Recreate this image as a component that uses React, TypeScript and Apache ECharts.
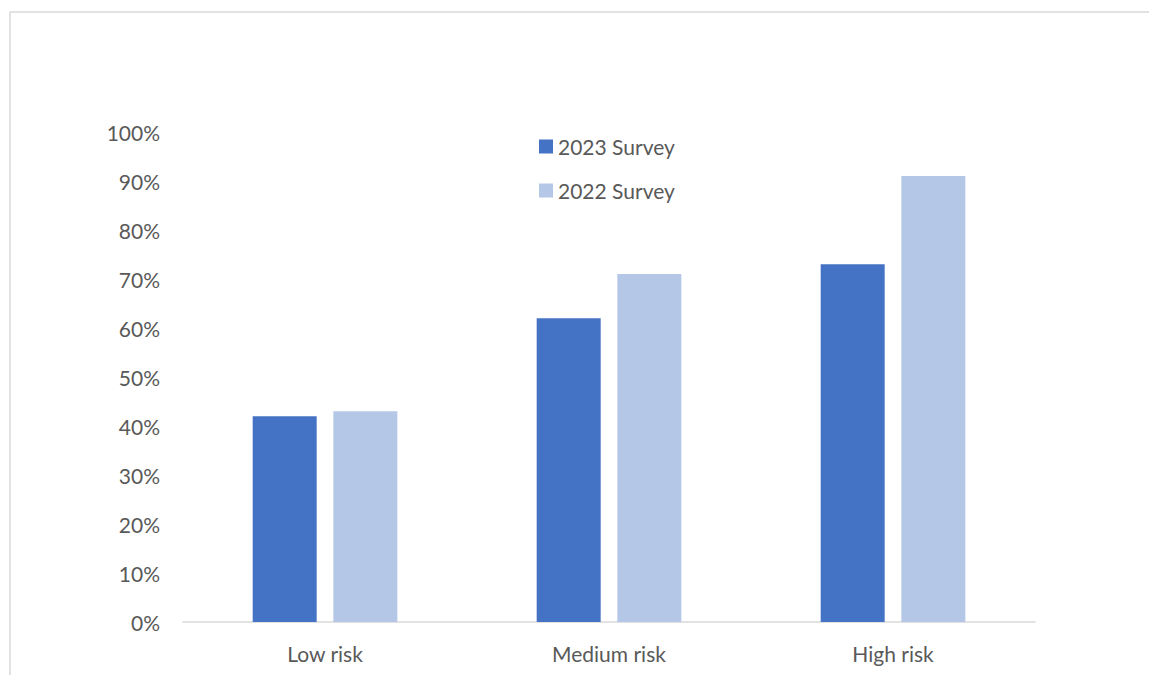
import React, { useEffect, useRef } from "react";
import * as echarts from "echarts";

const categories = ["Low risk", "Medium risk", "High risk"];
const survey2023 = [42, 62, 73];
const survey2022 = [43, 71, 91];
const seriesNames = ["2023 Survey", "2022 Survey"];

const TEXT = "#595959";
const FONT = "Lato, 'Open Sans', sans-serif";
const FONT_SIZE = 21;

export default function App() {
  const ref = useRef<HTMLDivElement>(null);

  useEffect(() => {
    if (!ref.current) return;
    const chart = echarts.init(ref.current, undefined, { renderer: "svg" });
    chart.setOption({
      animation: false,
      backgroundColor: "#ffffff",
      textStyle: { fontFamily: FONT },
      graphic: [
        {
          type: "rect",
          shape: { x: 10, y: 12, width: 1300, height: 800 },
          style: { fill: "none", stroke: "#D9D9D9", lineWidth: 1.5 },
          silent: true,
          z: -10,
        },
      ],
      legend: {
        orient: "vertical",
        left: 534,
        top: 131,
        itemWidth: 14,
        itemHeight: 14,
        itemGap: 23,
        icon: "rect",
        data: seriesNames,
        textStyle: { color: TEXT, fontSize: FONT_SIZE, fontFamily: FONT },
      },
      grid: { left: 183, right: 114, top: 132, bottom: 53, containLabel: false },
      xAxis: {
        type: "category",
        data: categories,
        axisLine: { lineStyle: { color: "#D9D9D9", width: 1.5 } },
        axisTick: { show: false },
        axisLabel: { color: TEXT, fontSize: FONT_SIZE, margin: 21, fontFamily: FONT },
      },
      yAxis: {
        type: "value",
        min: 0,
        max: 100,
        interval: 10,
        splitLine: { show: false },
        axisLine: { show: false },
        axisTick: { show: false },
        axisLabel: {
          color: TEXT,
          fontSize: FONT_SIZE,
          margin: 23,
          fontFamily: FONT,
          formatter: "{value}%",
        },
      },
      series: [
        {
          name: seriesNames[0],
          type: "bar",
          data: survey2023,
          barWidth: 64,
          barGap: "26%",
          itemStyle: { color: "#4472C4" },
        },
        {
          name: seriesNames[1],
          type: "bar",
          data: survey2022,
          barWidth: 64,
          itemStyle: { color: "#B4C7E7" },
        },
      ],
    });
    return () => chart.dispose();
  }, []);

  return (
    <div
      ref={ref}
      style={{ position: "absolute", left: 0, top: 0, width: 1149, height: 675 }}
    />
  );
}
